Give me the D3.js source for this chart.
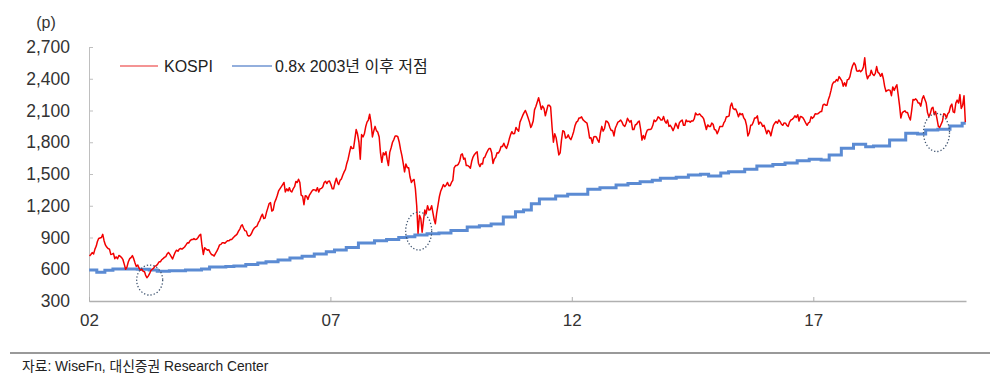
<!DOCTYPE html>
<html><head><meta charset="utf-8">
<script src="https://cdn.jsdelivr.net/npm/d3@7"></script>
<style>
html,body{margin:0;padding:0;background:#fff;}
svg{display:block;font-family:"Liberation Sans","Noto Sans CJK KR",Arial,sans-serif;}
</style></head>
<body><svg id="chart" width="1000" height="391"></svg>
<script>
// KOSPI, three readings per month (early, mid, late)
const kospi2002=[725,740,757,745,790,819,860,890,895,900,930,870,830,810,796,790,740,743,750,700,717,700,730,723,710,690,646,600,620,669,700,710,729,700,660,627];
const kospi2003=[640,610,591,600,580,576,545,520,535,560,590,600,610,630,633,650,670,670,690,700,712,720,745,759,740,720,697,730,760,780,770,790,796,790,800,810];
const kospi2004=[830,850,848,870,880,880,890,880,883,900,920,930,820,740,803,790,780,785,760,740,735,725,750,771,800,830,835,850,850,845,860,870,869,880,880,896];
const kospi2005=[910,920,932,960,980,1011,1020,990,965,960,920,912,920,940,970,990,1000,1008,1040,1060,1094,1120,1080,1083,1140,1180,1221,1230,1150,1158,1230,1260,1297,1340,1360,1379];
const kospi2006=[1400,1420,1330,1360,1340,1371,1340,1330,1359,1380,1430,1419,1450,1420,1300,1290,1210,1295,1290,1260,1297,1320,1340,1352,1350,1340,1371,1330,1360,1364,1380,1420,1432,1410,1430,1434];
const kospi2007=[1400,1360,1360,1420,1460,1417,1400,1440,1452,1490,1520,1543,1600,1640,1700,1760,1740,1743,1830,1920,1880,1800,1640,1873,1850,1880,1946,1990,2010,2065,1980,1850,1906,1950,1910,1897];
const kospi2008=[1850,1700,1610,1700,1680,1711,1640,1580,1704,1750,1800,1825,1860,1860,1852,1800,1730,1674,1600,1520,1594,1560,1560,1474,1420,1440,1448,1360,1200,940,1110,1080,950,1060,1160,1124];
const kospi2009=[1200,1160,1162,1200,1130,1063,1030,1130,1206,1290,1340,1369,1400,1380,1395,1420,1390,1390,1420,1440,1557,1580,1580,1591,1620,1680,1690,1640,1650,1580,1580,1570,1555,1620,1660,1682];
const kospi2010=[1700,1710,1602,1570,1600,1594,1650,1660,1692,1720,1740,1741,1700,1600,1641,1660,1700,1698,1720,1760,1759,1790,1760,1742,1780,1830,1872,1900,1880,1882,1940,1920,1904,1990,2020,2051];
const kospi2011=[2080,2100,2069,2030,1990,1939,1960,2000,2106,2140,2180,2220,2170,2110,2142,2120,2050,2100,2150,2150,2133,1940,1800,1880,1840,1760,1680,1700,1820,1909,1900,1840,1847,1870,1840,1825];
const kospi2012=[1860,1900,1955,1990,2000,2030,2030,2040,2014,2000,1990,1981,1920,1840,1843,1790,1850,1854,1850,1820,1800,1890,1950,1905,1930,2000,1996,1980,1940,1912,1910,1860,1932,1960,1990,1997];
const kospi2013=[2010,1990,1961,1950,1980,2026,2010,1990,2005,1920,1920,1963,1970,1990,2001,1920,1820,1863,1830,1880,1914,1920,1920,1926,1960,2010,1997,2010,2040,2030,2010,2010,2044,2000,1980,2011];
const kospi2014=[1950,1960,1941,1910,1940,1980,1960,1930,1985,2000,2010,1961,1960,2010,1995,2000,1990,2002,2000,2020,2076,2060,2060,2068,2050,2040,2020,1970,1920,1964,1950,1950,1981,1970,1920,1916];
const kospi2015=[1880,1910,1949,1950,1950,1986,2000,2040,2041,2050,2140,2170,2120,2110,2114,2080,2040,2074,2060,2070,2030,2010,1960,1860,1890,1960,1963,1990,2030,2029,2050,1970,1991,1980,1950,1961];
const kospi2016=[1920,1880,1912,1900,1860,1917,1960,1980,1996,1980,2010,1994,1970,1960,1983,1980,1960,1950,1990,2010,2016,2030,2050,2034,2060,2000,2043,2040,2030,2008,1980,1960,1983,1990,2040,2026];
const kospi2017=[2040,2070,2067,2070,2080,2091,2090,2150,2160,2150,2150,2205,2240,2290,2347,2370,2370,2392,2380,2420,2402,2380,2330,2363,2330,2390,2394,2420,2480,2523,2550,2530,2476,2470,2480,2467];
const kospi2018=[2480,2510,2598,2450,2400,2427,2430,2480,2445,2430,2450,2515,2460,2450,2423,2450,2400,2326,2280,2290,2295,2290,2240,2323,2290,2320,2343,2250,2150,2029,2080,2090,2097,2080,2080,2041];
const kospi2019=[2010,2100,2204,2200,2210,2195,2170,2170,2141,2210,2240,2204,2170,2080,2042,2070,2120,2130,2060,2090,2025,1950,1940,1968,2000,2070,2063,2030,2070,2083,2140,2160,2087,2080,2170,2198];
const kospi2020=[2170,2250,2120,2150,2240,1990];
const kospiYears=[2002,2003,2004,2005,2006,2007,2008,2009,2010,2011,2012,2013,2014,2015,2016,2017,2018,2019,2020];
const readingDays=[5,15,25];

// 0.8x post-2003 low (step line)
const floorDates=["2002-01-02","2002-03-01","2002-05-01","2002-07-01","2003-01-01","2003-04-01","2003-06-01","2003-09-01","2004-01-01","2004-05-01","2004-07-01","2004-11-01","2005-01-01","2005-04-01","2005-07-01","2005-09-01","2005-12-01","2006-03-01","2006-06-01","2006-09-01","2006-12-01","2007-02-01","2007-05-01","2007-08-01","2007-12-01","2008-03-01","2008-06-01","2008-08-01","2008-10-01","2009-01-01","2009-04-01","2009-07-01","2009-11-01","2010-02-01","2010-05-01","2010-08-01","2010-11-01","2011-01-01","2011-03-01","2011-05-01","2011-09-01","2011-12-01","2012-05-01","2012-08-01","2012-12-01","2013-03-01","2013-06-01","2013-09-01","2013-11-01","2014-03-01","2014-06-01","2014-09-01","2014-11-01","2015-02-01","2015-04-01","2015-08-01","2015-11-01","2016-03-01","2016-06-01","2016-09-01","2016-12-01","2017-03-01","2017-05-01","2017-08-01","2017-11-01","2018-02-01","2018-04-01","2018-08-01","2018-12-01","2019-03-01","2019-05-01","2019-08-01","2019-11-01","2020-02-01","2020-02-28"];
const floorValues=[592,572,590,603,600,592,580,585,592,602,621,626,631,645,660,671,688,706,722,745,765,782,805,848,870,880,900,908,924,935,942,965,999,1010,1028,1094,1144,1160,1220,1264,1292,1308,1355,1370,1396,1410,1427,1440,1459,1470,1490,1497,1481,1510,1522,1545,1576,1590,1605,1626,1639,1632,1680,1743,1781,1758,1765,1821,1884,1878,1916,1922,1954,1979,1979];

const yTicks=[300,600,900,1200,1500,1800,2100,2400,2700];
const xTickYears=[2002,2007,2012,2017];
const xTickLabels=["02","07","12","17"];

// circled lows
const circleDates=["2003-04-05","2008-10-30","2019-07-22"];
const circleValues=[498,961,1892];

const legendLabels=["KOSPI","0.8x 2003년 이후 저점"];
const unitLabel="(p)";
const sourceText="자료: WiseFn, 대신증권 Research Center";

const RED="#f20000", BLUE="#5b8bd3";
const svg=d3.select("#chart");
const parse=d3.timeParse("%Y-%m-%d");

const x=d3.scaleTime().domain([new Date(2002,0,1),new Date(2020,2,1)]).range([89,966]);
const y=d3.scaleLinear().domain([300,2700]).range([301,47]);

const kospiByYear={2002:kospi2002,2003:kospi2003,2004:kospi2004,2005:kospi2005,2006:kospi2006,2007:kospi2007,2008:kospi2008,2009:kospi2009,2010:kospi2010,2011:kospi2011,2012:kospi2012,2013:kospi2013,2014:kospi2014,2015:kospi2015,2016:kospi2016,2017:kospi2017,2018:kospi2018,2019:kospi2019,2020:kospi2020};
const kospi=[];
kospiYears.forEach(yr=>{
  kospiByYear[yr].forEach((v,i)=>{kospi.push({d:new Date(yr,Math.floor(i/3),readingDays[i%3]),v});});
});
const floor=floorDates.map((s,i)=>({d:parse(s),v:floorValues[i]}));

// axes
const yAxis=d3.axisLeft(y).tickValues(yTicks).tickSize(-4).tickSizeOuter(0).tickPadding(19).tickFormat(d3.format(","));
const gy=svg.append("g").attr("transform","translate(89,0)").call(yAxis);
gy.select(".domain").attr("stroke","#bfbfbf");
gy.selectAll(".tick line").attr("stroke","#bfbfbf");
gy.selectAll("text").attr("font-size",17.5).attr("fill","#333").attr("font-family","Liberation Sans, Arial, sans-serif");

const xAxis=d3.axisBottom(x).tickValues(xTickYears.map(yr=>new Date(yr,0,1))).tickSize(-4).tickSizeOuter(0).tickPadding(13)
  .tickFormat((d,i)=>xTickLabels[i]);
const gx=svg.append("g").attr("transform","translate(0,301)").call(xAxis);
gx.select(".domain").attr("stroke","#b0b0b0").attr("stroke-width",1.5);
gx.selectAll(".tick line").attr("stroke","#b0b0b0");
gx.selectAll("text").attr("font-size",17).attr("fill","#333").attr("font-family","Liberation Sans, Arial, sans-serif");

svg.append("text").attr("x",46).attr("y",28).attr("text-anchor","middle").attr("font-size",16).attr("fill","#333").text(unitLabel);

// lines
svg.append("path").datum(floor).attr("fill","none").attr("stroke",BLUE).attr("stroke-width",3)
  .attr("d",d3.line().x(d=>x(d.d)).y(d=>y(d.v)).curve(d3.curveStepAfter));
svg.append("path").datum(kospi).attr("fill","none").attr("stroke",RED).attr("stroke-width",1.5).attr("stroke-linejoin","round")
  .attr("d",d3.line().x(d=>x(d.d)).y(d=>y(d.v)));

// circles
circleDates.forEach((s,i)=>{
  svg.append("ellipse").attr("cx",x(parse(s))).attr("cy",y(circleValues[i]))
    .attr("rx",13).attr("ry",i===0?15:19).attr("fill","none").attr("stroke","#3f5470")
    .attr("stroke-width",1.3).attr("stroke-dasharray","1.3,2");
});

// legend
const lg=svg.append("g");
lg.append("line").attr("x1",120).attr("x2",158).attr("y1",66).attr("y2",66).attr("stroke","#f07070").attr("stroke-width",1.5);
lg.append("text").attr("x",164).attr("y",72).attr("font-size",16).attr("fill","#222").text(legendLabels[0]);
lg.append("line").attr("x1",232).attr("x2",272).attr("y1",66).attr("y2",66).attr("stroke","#6f95d2").attr("stroke-width",1.5);
lg.append("text").attr("x",275).attr("y",72).attr("font-size",16).attr("fill","#222").text(legendLabels[1]);

// source
svg.append("line").attr("x1",10).attr("x2",990).attr("y1",353).attr("y2",353).attr("stroke","#777").attr("stroke-width",1.5);
svg.append("text").attr("x",22).attr("y",371).attr("font-size",13.8).attr("fill","#222").text(sourceText);
</script></body></html>
